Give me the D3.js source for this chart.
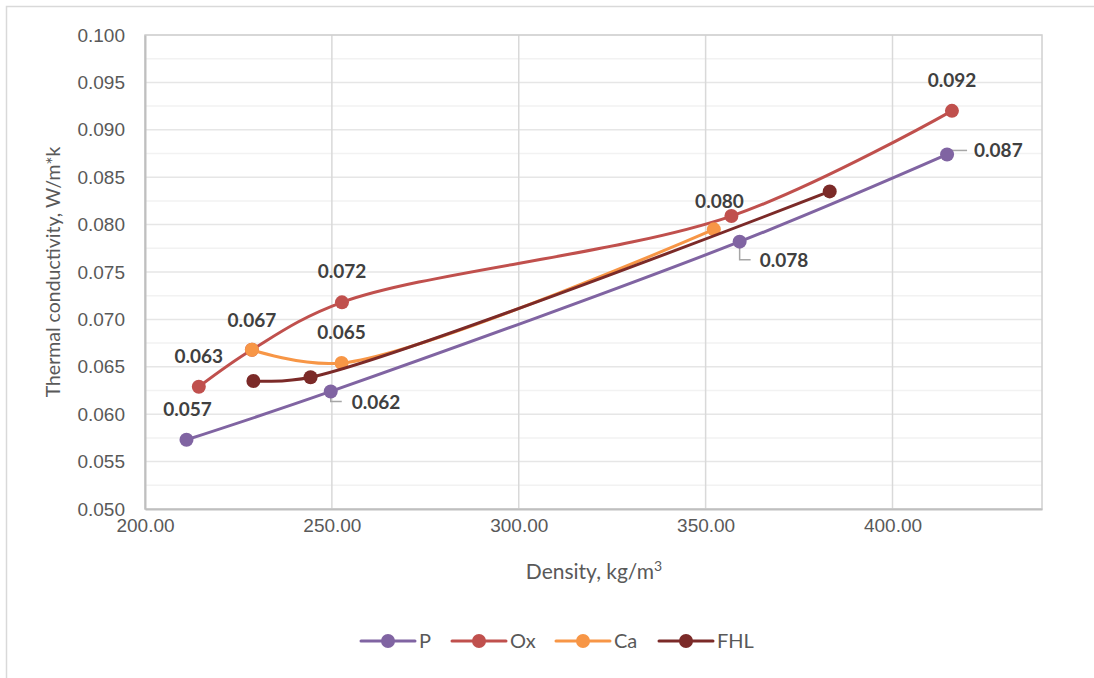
<!DOCTYPE html>
<html><head><meta charset="utf-8">
<script src="https://cdn.jsdelivr.net/npm/d3@7"></script>
<style>body{margin:0;background:#fff;}svg{display:block;font-family:Lato,"Open Sans",sans-serif;}</style>
</head><body>
<svg id="chart" width="1094" height="678"></svg>
<script>
// ---- data ----
const seriesNames = ["P", "Ox", "Ca", "FHL"];
const seriesColors = ["#8064A2", "#C0504D", "#F79646", "#7B2A28"];
const densityP   = [211.1, 249.7, 359.1, 414.6];
const conductP   = [0.0573, 0.0624, 0.0782, 0.0874];
const densityOx  = [214.4, 228.6, 252.7, 356.9, 415.9];
const conductOx  = [0.0629, 0.0668, 0.0718, 0.0809, 0.0920];
const densityCa  = [228.6, 252.6, 352.2];
const conductCa  = [0.0668, 0.0654, 0.0795];
const densityFHL = [229.0, 244.3, 383.2];
const conductFHL = [0.0635, 0.0639, 0.0835];
// data labels: [series index, point index, text]
const labelSpec = [
  [0,0,"0.057"],[0,1,"0.062"],[0,2,"0.078"],[0,3,"0.087"],
  [1,0,"0.063"],[1,1,"0.067"],[1,2,"0.072"],[1,3,"0.080"],[1,4,"0.092"],
  [2,1,"0.065"]
];
const xTicks = [200, 250, 300, 350, 400];
const yTicks = [0.050,0.055,0.060,0.065,0.070,0.075,0.080,0.085,0.090,0.095,0.100];
const yMinorTicks = [0.0525,0.0575,0.0625,0.0675,0.0725,0.0775,0.0825,0.0875,0.0925,0.0975];
const xTitle = "Density, kg/m";
const yTitle = "Thermal conductivity, W/m*k";

// ---- layout ----
const svg = d3.select("#chart");
const L = 145, R = 1042, T = 35, B = 509;
const x = d3.scaleLinear().domain([200, 440]).range([L, R]);
const y = d3.scaleLinear().domain([0.05, 0.10]).range([B, T]);

// outer chart border (partially visible)
svg.append("path").attr("d", `M6.5,678 V6.5 H1094`).attr("fill","none").attr("stroke","#D9D9D9").attr("stroke-width",1.5);

// minor gridlines
svg.append("g").selectAll("line").data(yMinorTicks).join("line")
  .attr("x1", L).attr("x2", R).attr("y1", d=>y(d)).attr("y2", d=>y(d))
  .attr("stroke", "#F2F2F2").attr("stroke-width", 1.5);
// major gridlines
svg.append("g").selectAll("line").data(yTicks).join("line")
  .attr("x1", L).attr("x2", R).attr("y1", d=>y(d)).attr("y2", d=>y(d))
  .attr("stroke", "#E6E6E6").attr("stroke-width", 1.5);
svg.append("g").selectAll("line").data(xTicks).join("line")
  .attr("x1", d=>x(d)).attr("x2", d=>x(d)).attr("y1", T).attr("y2", B)
  .attr("stroke", "#D9D9D9").attr("stroke-width", 1.5);
// plot border
svg.append("rect").attr("x", L).attr("y", T).attr("width", R-L).attr("height", B-T)
  .attr("fill","none").attr("stroke","#D0D0D0").attr("stroke-width",1.5);

// axes
const xAxis = d3.axisBottom(x).tickValues(xTicks).tickFormat(d3.format(".2f")).tickSize(0).tickPadding(20);
const gx = svg.append("g").attr("transform", `translate(0,${B})`).call(xAxis);
gx.select(".domain").attr("stroke","#BFBFBF").attr("stroke-width",2);
gx.selectAll("text").attr("fill","#595959").style("font-size","19px").attr("dy","0.15em");

const yAxis = d3.axisLeft(y).tickValues(yTicks).tickFormat(d3.format(".3f")).tickSize(0).tickPadding(20);
const gy = svg.append("g").attr("transform", `translate(${L},0)`).call(yAxis);
gy.select(".domain").attr("stroke","#BFBFBF").attr("stroke-width",2);
gy.selectAll("text").attr("fill","#595959").style("font-size","19px");

// axis titles
const xt = svg.append("text").attr("x", 594).attr("y", 579).attr("text-anchor","middle")
  .attr("fill","#595959").style("font-size","21px").text(xTitle);
xt.append("tspan").attr("dy","-8").style("font-size","14px").text("3");
svg.append("text").attr("transform","translate(60,272) rotate(-90)").attr("text-anchor","middle")
  .attr("fill","#595959").style("font-size","19.5px").text(yTitle);

// series
const series = [
  {name: seriesNames[0], color: seriesColors[0], pts: densityP.map((d,i)=>[d, conductP[i]])},
  {name: seriesNames[1], color: seriesColors[1], pts: densityOx.map((d,i)=>[d, conductOx[i]])},
  {name: seriesNames[2], color: seriesColors[2], pts: densityCa.map((d,i)=>[d, conductCa[i]])},
  {name: seriesNames[3], color: seriesColors[3], pts: densityFHL.map((d,i)=>[d, conductFHL[i]])}
];
const line = d3.line().x(d=>x(d[0])).y(d=>y(d[1])).curve(d3.curveCatmullRom.alpha(0.5));

// leader lines
const leaders = svg.append("g").attr("stroke","#A6A6A6").attr("stroke-width",1.5).attr("fill","none");
function pt(si, pi){ const p = series[si].pts[pi]; return [x(p[0]), y(p[1])]; }
{ const [px,py] = pt(0,3); leaders.append("path").attr("d",`M${px},${py-4} L${px+20},${py-4}`); }
{ const [px,py] = pt(0,2); leaders.append("path").attr("d",`M${px},${py} V${py+18} H${px+11}`); }
{ const [px,py] = pt(0,1); leaders.append("path").attr("d",`M${px},${py} V${py+10} H${px+11}`); }

series.forEach(s => {
  const g = svg.append("g");
  g.append("path").attr("d", line(s.pts)).attr("fill","none").attr("stroke", s.color)
    .attr("stroke-width", 3).attr("stroke-linecap","round");
  g.selectAll("circle").data(s.pts).join("circle")
    .attr("cx", d=>x(d[0])).attr("cy", d=>y(d[1])).attr("r", 7).attr("fill", s.color);
});

// data labels
const labelOffsets = {
  "0.057":[1,-24,"middle"], "0.062":[21,18,"start"], "0.078":[20,25,"start"], "0.087":[27,3,"start"],
  "0.063":[0,-24,"middle"], "0.067":[0,-23,"middle"], "0.072":[0,-24,"middle"], "0.080":[-12,-8,"middle"],
  "0.092":[0,-24,"middle"], "0.065":[0,-24,"middle"]
};
labelSpec.forEach(([si,pi,t]) => {
  const [px,py] = pt(si,pi); const o = labelOffsets[t];
  svg.append("text").attr("x", px+o[0]).attr("y", py+o[1]).attr("text-anchor", o[2])
    .attr("fill","#404040").style("font-size","19px").style("font-weight","bold").text(t);
});

// legend
const legendX = [361, 452, 556, 659];
const lg = svg.append("g");
series.forEach((s,i) => {
  const g = lg.append("g").attr("transform", `translate(${legendX[i]},641)`);
  g.append("line").attr("x1",0).attr("x2",54).attr("stroke",s.color).attr("stroke-width",3).attr("stroke-linecap","round");
  g.append("circle").attr("cx",27).attr("r",7).attr("fill",s.color);
  g.append("text").attr("x",58).attr("y",7).attr("fill","#595959").style("font-size","20px").text(s.name);
});
</script>
</body></html>
